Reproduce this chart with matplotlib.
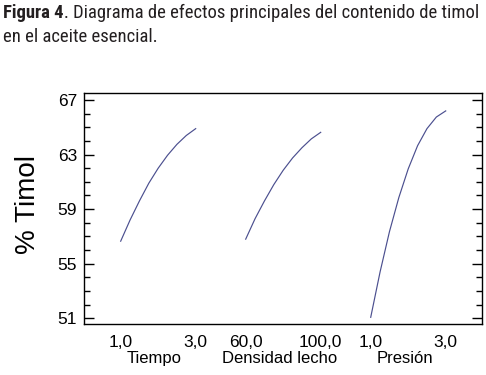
import matplotlib
matplotlib.use("Agg")
import matplotlib.pyplot as plt
from matplotlib.ticker import MultipleLocator

# main effects
tiempo = [1.0, 1.25, 1.5, 1.75, 2.0, 2.25, 2.5, 2.75, 3.0]
timol_tiempo = [56.65, 58.2, 59.6, 60.9, 62.0, 62.95, 63.75, 64.4, 64.9]

densidad = [60.0, 65.0, 70.0, 75.0, 80.0, 85.0, 90.0, 95.0, 100.0]
timol_densidad = [56.8, 58.3, 59.6, 60.8, 61.85, 62.75, 63.5, 64.15, 64.63]

presion = [1.0, 1.25, 1.5, 1.75, 2.0, 2.25, 2.5, 2.75, 3.0]
timol_presion = [51.07, 54.4, 57.35, 59.85, 61.95, 63.65, 64.9, 65.75, 66.2]

factores = ["Tiempo", "Densidad lecho", "Presión"]
limites = [(1.0, 3.0), (60.0, 100.0), (1.0, 3.0)]
etiquetas = [("1,0", "3,0"), ("60,0", "100,0"), ("1,0", "3,0")]
yticks = [51, 55, 59, 63, 67]

titulo_bold = "Figura 4"
titulo_resto = ". Diagrama de efectos principales del contenido de timol"
titulo_linea2 = "en el aceite esencial."

FONT = "Liberation Sans"

fig = plt.figure(figsize=(4.86, 3.75), dpi=100)
ax = fig.add_axes([84 / 486, 1 - 324 / 375, 398 / 486, (324 - 93.3) / 375])

gap = 5 / 3  # panel spacing in units of one panel width


def pos(v, i):
    lo, hi = limites[i]
    return [i * gap + (x - lo) / (hi - lo) for x in v]


line_color = "#4b4f8f"
series = [(tiempo, timol_tiempo), (densidad, timol_densidad), (presion, timol_presion)]
for i, (xs, ys) in enumerate(series):
    ax.plot(pos(xs, i), ys, color=line_color, lw=0.85)

ax.set_xlim(-0.489, 4.817)
ax.set_ylim(50.58, 67.49)

ax.set_yticks(yticks)
ax.set_yticklabels([str(t) for t in yticks], family=FONT)
ax.yaxis.set_minor_locator(MultipleLocator(1))
ax.tick_params(axis="y", which="both", direction="in", left=True, right=True,
               width=1.0, labelsize=12.5, pad=5)
ax.tick_params(axis="y", which="major", length=7)
ax.tick_params(axis="y", which="minor", length=4)

xt, xl = [], []
for i in range(3):
    lo, hi = limites[i]
    xt += pos([lo, hi], i)
    xl += list(etiquetas[i])
ax.set_xticks(xt)
ax.set_xticklabels(xl, family=FONT)
ax.tick_params(axis="x", length=0, labelsize=12.5, pad=8)

for i, f in enumerate(factores):
    c = i * gap + 0.45
    ax.text(c, -0.169, f, transform=ax.get_xaxis_transform(), ha="center",
            va="baseline", fontsize=12, family=FONT)

for s in ax.spines.values():
    s.set_linewidth(1.0)

ax.set_ylabel("% Timol", fontsize=20, family=FONT)
ax.yaxis.set_label_coords(-0.108, 0.52)

# caption above the chart, bold label then regular text
tc = "#231f20"
cap_font = ["Roboto Condensed", "DejaVu Sans"]
cap_size = 13.4
tb = fig.text(3 / 486, 1 - 17.5 / 375, titulo_bold, fontsize=cap_size, weight="bold",
              family=cap_font, color=tc)
r = fig.canvas.get_renderer()
bb = tb.get_window_extent(r)
fig.text(bb.x1 / fig.bbox.width, 1 - 17.5 / 375, titulo_resto, fontsize=cap_size,
         family=cap_font, color=tc)
fig.text(3 / 486, 1 - 42.5 / 375, titulo_linea2, fontsize=cap_size, family=cap_font,
         color=tc)

fig.savefig("out.png", dpi=100)
